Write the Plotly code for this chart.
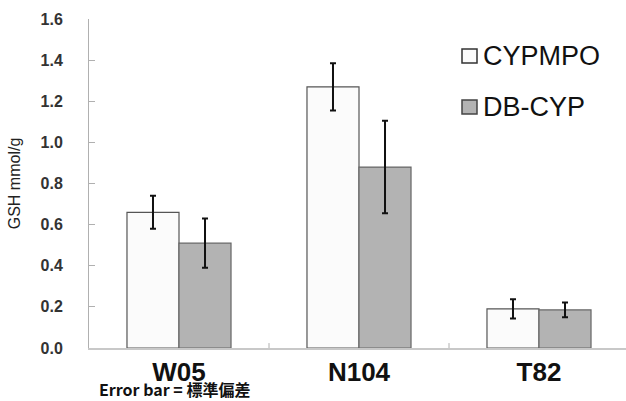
import plotly.graph_objects as go

categories = ["W05", "N104", "T82"]
cypmpo = [0.66, 1.27, 0.19]
cypmpo_err = [0.08, 0.115, 0.047]
dbcyp = [0.51, 0.88, 0.185]
dbcyp_err = [0.12, 0.225, 0.036]
series_names = ["CYPMPO", "DB-CYP"]
y_ticks = [0, 0.2, 0.4, 0.6, 0.8, 1.0, 1.2, 1.4, 1.6]

fill_colors = ["#fbfbfb", "#b3b3b3"]
line_colors = ["#555555", "#666666"]

fig = go.Figure()
for name, vals, errs, fc, lc in [
    (series_names[0], cypmpo, cypmpo_err, fill_colors[0], line_colors[0]),
    (series_names[1], dbcyp, dbcyp_err, fill_colors[1], line_colors[1]),
]:
    fig.add_trace(go.Bar(
        x=categories, y=vals, name=name,
        marker=dict(color=fc, line=dict(color=lc, width=1.2)),
        error_y=dict(type="data", array=errs, color="#111111", thickness=2, width=3),
        showlegend=False,
    ))

fig.update_layout(
    width=626, height=401,
    margin=dict(l=89, r=0, t=19, b=53),
    paper_bgcolor="white", plot_bgcolor="white",
    barmode="group", bargap=0.422, bargroupgap=0,
    font=dict(family="Liberation Sans, Arial, sans-serif", color="#222222"),
)
fig.update_yaxes(
    automargin=False,
    range=[0, 1.6], tickvals=y_ticks, ticktext=[f"<b>{v:.1f}</b>" for v in y_ticks],
    showgrid=False, zeroline=False, showline=True, linecolor="#b0b0b0", linewidth=1,
    ticks="inside", ticklen=6, tickcolor="#b0b0b0",
    tickfont=dict(size=16, color="#333333"), ticklabelstandoff=22,
    title=dict(text="GSH mmol/g", font=dict(size=16, color="#222222"), standoff=15),
)
fig.update_xaxes(
    automargin=False,
    range=[-0.5, -0.5 + 537 / 180],
    tickvals=categories, ticktext=[f"<b>{c}</b>" for c in categories],
    showgrid=False, zeroline=False, showline=True, linecolor="#c8c8c8", linewidth=1.5,
    ticks="", tickfont=dict(size=26, color="#111111"), ticklabelstandoff=0,
)
# inside tick marks between categories
for b in [0.5, 1.5]:
    fig.add_shape(type="line", xref="x", yref="paper", x0=b, x1=b, y0=0, y1=0.015,
                  line=dict(color="#b0b0b0", width=1))

# legend (manual)
leg = [(series_names[0], fill_colors[0], "#333333", 56), (series_names[1], fill_colors[1], "#444444", 107)]
for name, fc, lc, yc in leg:
    fig.add_shape(type="rect", xref="paper", yref="paper",
                  x0=(462 - 89) / 537, x1=(477 - 89) / 537,
                  y0=(348 - yc - 7) / 329, y1=(348 - yc + 7) / 329,
                  line=dict(color=lc, width=1.5), fillcolor=fc)
    fig.add_annotation(text=name, xref="paper", yref="paper",
                       x=(481 - 89) / 537, y=(348 - yc) / 329, xanchor="left", yanchor="middle",
                       showarrow=False, font=dict(size=27, color="#111111"))

fig.add_annotation(text="<b>Error bar = 標準偏差</b>", xref="paper", yref="paper",
                   x=(98 - 89) / 537, y=(348 - 389) / 329, xanchor="left", yanchor="middle",
                   showarrow=False, borderpad=0,
                   font=dict(size=16, family="Noto Sans CJK JP", color="#111111"))

fig.write_html("out.html", config={"displayModeBar": False},
               post_script="document.body.style.margin='0';document.body.style.overflow='hidden';")
